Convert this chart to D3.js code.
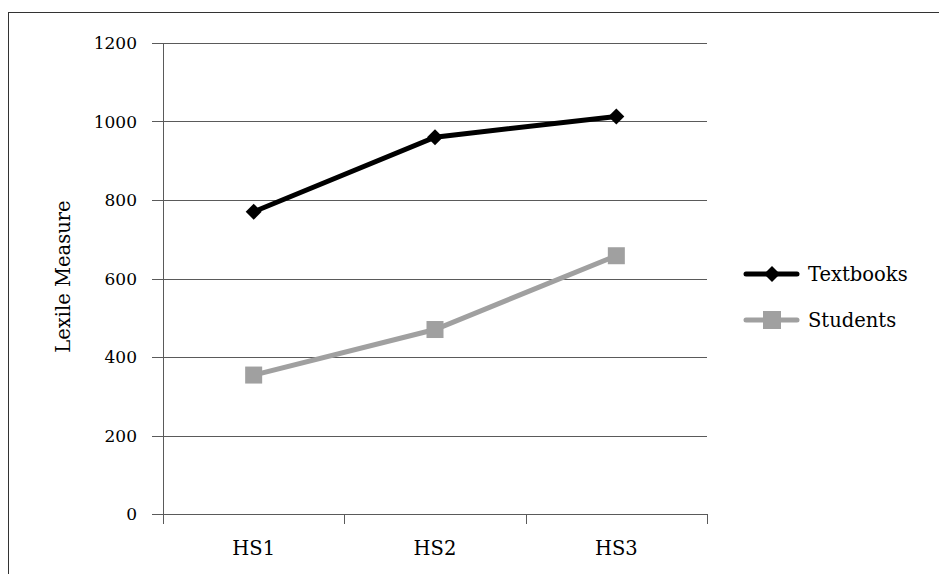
<!DOCTYPE html>
<html><head><meta charset="utf-8">
<script src="https://cdn.jsdelivr.net/npm/d3@7"></script>
<style>body{margin:0;background:#fff}svg{display:block}text{font-family:"DejaVu Serif",serif;fill:#000}</style>
</head><body><div id="chart"></div>
<script>
const categories = ["HS1","HS2","HS3"];
const textbooks = [770, 960, 1013];
const students = [354, 470, 658];
const yTicks = [0,200,400,600,800,1000,1200];
const seriesNames = ["Textbooks","Students"];

(function(){
const W=939,H=574;
const svg=d3.select("#chart").append("svg").attr("width",W).attr("height",H);
svg.append("rect").attr("x",8.5).attr("y",12.5).attr("width",940).attr("height",600).attr("fill","none").attr("stroke","#333").attr("stroke-width",1);

const pL=163,pR=707,pT=43,pB=514;
const x=d3.scaleBand().domain(categories).range([pL,pR]);
const y=d3.scaleLinear().domain([0,1200]).range([pB,pT]);

svg.append("g").selectAll("line").data(yTicks).join("line")
 .attr("x1",pL-11).attr("x2",pR).attr("y1",d=>Math.round(y(d))+0.5).attr("y2",d=>Math.round(y(d))+0.5)
 .attr("stroke","#5a5a5a").attr("stroke-width",1);
svg.append("line").attr("x1",pL+0.5).attr("x2",pL+0.5).attr("y1",pT).attr("y2",pB+10).attr("stroke","#5a5a5a");
const xt=[...categories.map(c=>x(c)), pR];
svg.append("g").selectAll("line").data(xt).join("line")
 .attr("x1",d=>Math.round(d)+0.5).attr("x2",d=>Math.round(d)+0.5).attr("y1",pB).attr("y2",pB+10).attr("stroke","#5a5a5a");

svg.append("g").selectAll("text").data(yTicks).join("text")
 .attr("x",pL-26).attr("y",d=>y(d)).attr("dy","0.36em").attr("text-anchor","end").attr("font-size",17).text(d=>d);
svg.append("g").selectAll("text").data(categories).join("text")
 .attr("x",d=>x(d)+x.bandwidth()/2).attr("y",pB+41).attr("text-anchor","middle").attr("font-size",19.5).text(d=>d);
svg.append("text").attr("transform","translate(70,"+((pT+pB)/2-2)+") rotate(-90)").attr("text-anchor","middle").attr("font-size",19.5).text("Lexile Measure");

const cx=d=>x(d)+x.bandwidth()/2;
const line=d3.line().x((d,i)=>cx(categories[i])).y(d=>y(d));
svg.append("path").attr("d",line(students)).attr("fill","none").attr("stroke","#a0a0a0").attr("stroke-width",5);
svg.append("g").selectAll("rect").data(students).join("rect")
 .attr("x",(d,i)=>cx(categories[i])-8.5).attr("y",d=>y(d)-8.5).attr("width",17).attr("height",17).attr("fill","#a0a0a0");
svg.append("path").attr("d",line(textbooks)).attr("fill","none").attr("stroke","#000").attr("stroke-width",5);
svg.append("g").selectAll("path").data(textbooks).join("path")
 .attr("d","M0,-8L8,0L0,8L-8,0Z").attr("transform",(d,i)=>`translate(${cx(categories[i])},${y(d)})`).attr("fill","#000");

const lg=svg.append("g");
const ly=[274,320];
lg.append("line").attr("x1",746).attr("x2",797).attr("y1",ly[0]).attr("y2",ly[0]).attr("stroke","#000").attr("stroke-width",5).attr("stroke-linecap","round");
lg.append("path").attr("d","M0,-8L8,0L0,8L-8,0Z").attr("transform",`translate(772,${ly[0]})`);
lg.append("line").attr("x1",746).attr("x2",797).attr("y1",ly[1]).attr("y2",ly[1]).attr("stroke","#a0a0a0").attr("stroke-width",5).attr("stroke-linecap","round");
lg.append("rect").attr("x",763).attr("y",ly[1]-9).attr("width",18).attr("height",18).attr("fill","#a0a0a0");
lg.selectAll("text").data(seriesNames).join("text").attr("x",808).attr("y",(d,i)=>ly[i]).attr("dy","0.36em").attr("font-size",19.5).text(d=>d);
})();
</script></body></html>
